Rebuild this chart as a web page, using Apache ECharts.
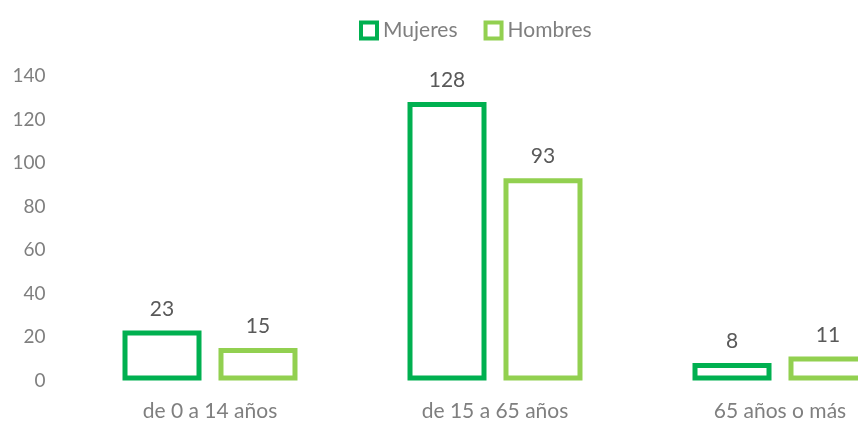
<!DOCTYPE html>
<html>
<head>
<meta charset="utf-8">
<script src="https://cdn.jsdelivr.net/npm/echarts@6/dist/echarts.min.js"></script>
<style>
  html, body { margin: 0; padding: 0; background: #fff; }
  #chart { width: 858px; height: 421px; }
</style>
</head>
<body>
<div id="chart"></div>
<script>
/* data */
var categories = ["de 0 a 14 años", "de 15 a 65 años", "65 años o más"];
var mujeres = [23, 128, 8];
var hombres = [15, 93, 11];

var font = "Lato, 'Open Sans', sans-serif";

var dom = document.getElementById("chart");
var myChart = echarts.init(dom, null, { renderer: "canvas" });

function barSeries(name, values, color) {
  return {
    name: name,
    type: "bar",
    data: values,
    barWidth: 79,
    barGap: "21.5%",
    itemStyle: {
      color: "#ffffff",
      borderColor: color,
      borderWidth: 5,
    },
    label: {
      show: true,
      position: "top",
      distance: 11,
      color: "#595959",
      fontSize: 21,
      fontFamily: font,
    },
  };
}

var option = {
  animation: false,
  legend: {
    top: 15,
    left: 354,
    icon: "rect",
    itemWidth: 16,
    itemHeight: 16,
    itemGap: 26,
    itemStyle: { borderWidth: 4 },
    textStyle: { color: "#7f7f7f", fontSize: 21, fontFamily: font, padding: [0, 0, 0, 1] },
    data: ["Mujeres", "Hombres"],
  },
  grid: {
    left: 67.5,
    top: 76,
    width: 855,
    height: 304.5,
    outerBoundsMode: "none",
    containLabel: false,
  },
  xAxis: {
    type: "category",
    data: categories,
    axisLine: { show: false },
    axisTick: { show: false },
    axisLabel: {
      color: "#7f7f7f",
      fontSize: 21,
      fontFamily: font,
      margin: 20,
    },
  },
  yAxis: {
    type: "value",
    min: 0,
    max: 140,
    interval: 20,
    splitLine: { show: false },
    axisLine: { show: false },
    axisTick: { show: false },
    axisLabel: {
      color: "#7f7f7f",
      fontSize: 19,
      fontFamily: font,
      margin: 22,
    },
  },
  series: [
    barSeries("Mujeres", mujeres, "#00B050"),
    barSeries("Hombres", hombres, "#92D050"),
  ],
};

myChart.setOption(option);
window.addEventListener("resize", myChart.resize);
</script>
</body>
</html>
